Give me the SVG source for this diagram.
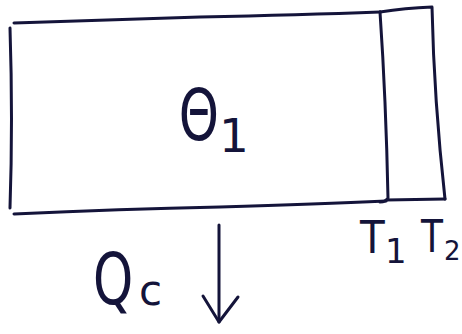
<svg xmlns="http://www.w3.org/2000/svg" width="462" height="334" viewBox="0 0 462 334">
<style>
.ln{fill:none;stroke:#14143a;stroke-width:3;stroke-linecap:round;stroke-linejoin:round}
.tx{fill:#14143a;font-family:"DejaVu Sans","Liberation Sans",sans-serif}
</style>
<rect width="462" height="334" fill="#ffffff"/>
<g id="block1">
<path class="ln" d="M10,28 Q13,120 10,208"/>
<path class="ln" d="M14,23 Q100,20 200,17 Q300,15 380,12"/>
<path class="ln" d="M14,214 Q120,209 220,207 Q320,204 386,201"/>
<path class="ln" d="M380,12 Q386,100 388,198 Q386,202 380,202"/>
<text class="tx" font-size="71" transform="translate(181 140) scale(0.72 1)" x="-3" y="0">Θ</text>
<text class="tx" x="219" y="152" font-size="47">1</text>
</g>
<g id="block2">
<path class="ln" d="M380,12 Q405,8 432,7 Q434,100 445,199"/>
<path class="ln" d="M386,200 L445,199"/>
</g>
<g id="labels">
<text class="tx" font-size="45" transform="translate(360 253) scale(0.9 1)" x="0" y="0">T</text>
<text class="tx" x="385" y="263" font-size="34">1</text>
<text class="tx" font-size="45" transform="translate(421 252) scale(0.8 1)" x="0" y="0">T</text>
<text class="tx" x="444" y="260" font-size="26">2</text>
<text class="tx" font-size="71" transform="translate(93 304) scale(0.72 1)" x="0" y="0">Q</text>
<text class="tx" x="139" y="305" font-size="42">c</text>
</g>
<g id="connectors">
<path class="ln" d="M219,225 L219,322"/>
<path class="ln" d="M203,296 L219,322 L238,297"/>
</g>
</svg>
